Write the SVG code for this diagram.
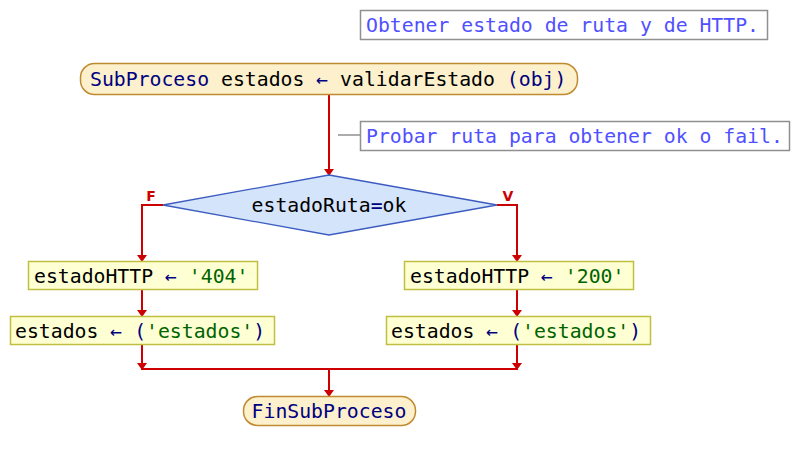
<svg xmlns="http://www.w3.org/2000/svg" width="802" height="460" viewBox="0 0 802 460">
<style>
text{font-family:"DejaVu Sans Mono","Liberation Mono",monospace;font-size:19.8px;dominant-baseline:central}
.kw{fill:#000080}
.str{fill:#006400}
.cm{fill:#5050ff}
.com{fill:#ffffff;stroke:#909090;stroke-width:1.5}
.term{fill:#fdf0cc;stroke:#c08a30;stroke-width:1.5}
.proc{fill:#ffffd4;stroke:#c0c040;stroke-width:1.5}
.dec{fill:#d4e4fa;stroke:#3c5cc0;stroke-width:1.3}
.ln{fill:none;stroke:#cc0000;stroke-width:2}
.ah{fill:#cc0000}
.lbl{font-family:"DejaVu Sans","Liberation Sans",sans-serif;font-size:14px;font-weight:bold;fill:#cc0000}
</style>
<g id="connectors">
<path class="ln" d="M329,95 V170"/>
<path class="ln" d="M163,205 H142 V256"/>
<path class="ln" d="M497,205 H517 V256"/>
<path class="ln" d="M142,290 V311"/>
<path class="ln" d="M517,290 V311"/>
<path class="ln" d="M142,345 V369 H517 V345"/>
<path class="ln" d="M329,369 V391"/>
<path class="ah" d="M324,169 L334,169 L329,176 Z"/>
<path class="ah" d="M137,255 L147,255 L142,262 Z"/>
<path class="ah" d="M512,255 L522,255 L517,262 Z"/>
<path class="ah" d="M137,310 L147,310 L142,317 Z"/>
<path class="ah" d="M512,310 L522,310 L517,317 Z"/>
<path class="ah" d="M137,363 L147,363 L142,370 Z"/>
<path class="ah" d="M512,363 L522,363 L517,370 Z"/>
<path class="ah" d="M324,390 L334,390 L329,397 Z"/>
<path d="M338,135 H360" fill="none" stroke="#909090" stroke-width="1.5"/>
<text class="lbl" x="151" y="196" text-anchor="middle">F</text>
<text class="lbl" x="508" y="196" text-anchor="middle">V</text>
</g>
<g id="comment1">
<rect class="com" x="360.5" y="10.5" width="407" height="29"/>
<text class="cm" x="366" y="25">Obtener estado de ruta y de HTTP.</text>
</g>
<g id="start">
<rect class="term" x="80.5" y="63.5" width="497" height="31" rx="14" ry="14"/>
<text x="90" y="79"><tspan class="kw">SubProceso</tspan> estados <tspan class="kw">←</tspan> validarEstado <tspan class="kw">(obj)</tspan></text>
</g>
<g id="comment2">
<rect class="com" x="360.5" y="121.5" width="429" height="29"/>
<text class="cm" x="366" y="136">Probar ruta para obtener ok o fail.</text>
</g>
<g id="decision">
<polygon class="dec" points="329,175 497,205 329,235 163,205"/>
<text x="329" y="205" text-anchor="middle">estadoRuta<tspan class="kw">=</tspan>ok</text>
</g>
<g id="http404">
<rect class="proc" x="28.5" y="261.5" width="229" height="28"/>
<text x="34" y="276">estadoHTTP <tspan class="kw">←</tspan> <tspan class="str">'404'</tspan></text>
</g>
<g id="estados1">
<rect class="proc" x="10.5" y="316.5" width="264" height="28"/>
<text x="15" y="331">estados <tspan class="kw">←</tspan> <tspan class="kw">(</tspan><tspan class="str">'estados'</tspan><tspan class="kw">)</tspan></text>
</g>
<g id="http200">
<rect class="proc" x="404.5" y="261.5" width="229" height="28"/>
<text x="410" y="276">estadoHTTP <tspan class="kw">←</tspan> <tspan class="str">'200'</tspan></text>
</g>
<g id="estados2">
<rect class="proc" x="386.5" y="316.5" width="264" height="28"/>
<text x="391" y="331">estados <tspan class="kw">←</tspan> <tspan class="kw">(</tspan><tspan class="str">'estados'</tspan><tspan class="kw">)</tspan></text>
</g>
<g id="end">
<rect class="term" x="243.5" y="396.5" width="172" height="29" rx="14" ry="14"/>
<text class="kw" x="329" y="411" text-anchor="middle">FinSubProceso</text>
</g>
</svg>
